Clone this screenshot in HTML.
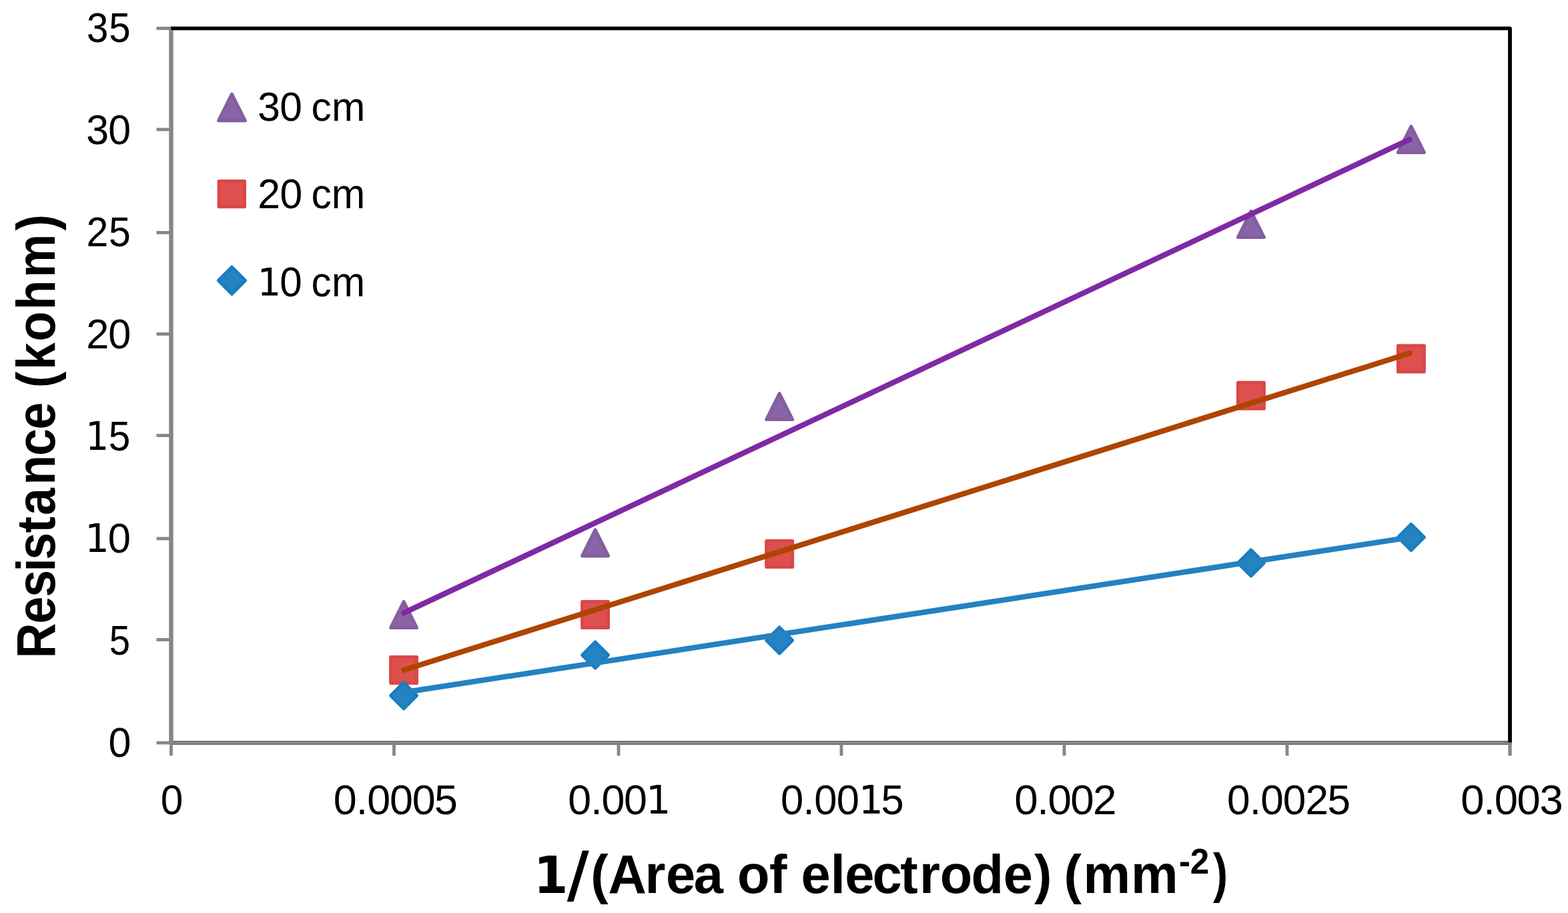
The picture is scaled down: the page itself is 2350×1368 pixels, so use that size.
<!DOCTYPE html><html><head><meta charset="utf-8"><title>Resistance vs 1/Area of electrode</title><style>html,body{margin:0;padding:0;background:#fff;}body{width:2350px;height:1368px;overflow:hidden;}svg{display:block;}text{font-family:"Liberation Sans",sans-serif;fill:#000;font-kerning:none;}</style></head><body>
<svg width="2350" height="1368" viewBox="0 0 2350 1368">
<rect width="2350" height="1368" fill="#fff"/>
<rect x="256.5" y="42.5" width="2006.5" height="1070.5" fill="none" stroke="#000" stroke-width="5.4" stroke-linejoin="round"/>
<line x1="256.5" y1="40.0" x2="256.5" y2="1113.0" stroke="#868686" stroke-width="6"/>
<line x1="256.5" y1="1113.0" x2="2265.7" y2="1113.0" stroke="#868686" stroke-width="4.8"/>
<line x1="234.5" y1="42.5" x2="256.5" y2="42.5" stroke="#868686" stroke-width="4.8"/>
<line x1="234.5" y1="194.0" x2="256.5" y2="194.0" stroke="#868686" stroke-width="4.8"/>
<line x1="234.5" y1="348.5" x2="256.5" y2="348.5" stroke="#868686" stroke-width="4.8"/>
<line x1="234.5" y1="500.5" x2="256.5" y2="500.5" stroke="#868686" stroke-width="4.8"/>
<line x1="234.5" y1="652.5" x2="256.5" y2="652.5" stroke="#868686" stroke-width="4.8"/>
<line x1="234.5" y1="807.0" x2="256.5" y2="807.0" stroke="#868686" stroke-width="4.8"/>
<line x1="234.5" y1="958.5" x2="256.5" y2="958.5" stroke="#868686" stroke-width="4.8"/>
<line x1="234.5" y1="1113.0" x2="256.5" y2="1113.0" stroke="#868686" stroke-width="4.8"/>
<line x1="256.5" y1="1113.0" x2="256.5" y2="1132.3" stroke="#868686" stroke-width="4.8"/>
<line x1="590.5" y1="1113.0" x2="590.5" y2="1132.3" stroke="#868686" stroke-width="4.8"/>
<line x1="927.0" y1="1113.0" x2="927.0" y2="1132.3" stroke="#868686" stroke-width="4.8"/>
<line x1="1261.0" y1="1113.0" x2="1261.0" y2="1132.3" stroke="#868686" stroke-width="4.8"/>
<line x1="1595.0" y1="1113.0" x2="1595.0" y2="1132.3" stroke="#868686" stroke-width="4.8"/>
<line x1="1929.0" y1="1113.0" x2="1929.0" y2="1132.3" stroke="#868686" stroke-width="4.8"/>
<line x1="2263.0" y1="1113.0" x2="2263.0" y2="1132.3" stroke="#868686" stroke-width="5.4"/>
<line x1="256.5" y1="42.5" x2="2263.0" y2="42.5" stroke="#000" stroke-width="5.0"/>
<line x1="2263.0" y1="42.5" x2="2263.0" y2="1112.6" stroke="#000" stroke-width="5.4"/>
<text transform="translate(0,63.09) scale(0.9529,1.0238)" x="136.55 171.21" y="0" font-size="61">35</text>
<text transform="translate(0,216.06) scale(0.9982,1.0238)" x="129.44 162.54" y="0" font-size="61">30</text>
<text transform="translate(0,369.03) scale(0.9669,1.0238)" x="134.03 168.51" y="0" font-size="61">25</text>
<text transform="translate(0,522.00) scale(1.0049,1.0238)" x="128.55 161.48" y="0" font-size="61">20</text>
<text transform="translate(0,674.97) scale(0.9605,1.0238)" font-size="61"><tspan x="133.66" y="-0.70" font-family="DejaVu Sans, sans-serif" font-size="57.08">1</tspan><tspan x="169.44" y="0">5</tspan></text>
<text transform="translate(0,827.94) scale(1.0085,1.0238)" font-size="61"><tspan x="126.25" y="-0.68" font-family="DejaVu Sans, sans-serif" font-size="57.08">1</tspan><tspan x="160.40" y="0">0</tspan></text>
<text transform="translate(0,980.91) scale(0.9232,1.0238)" x="177.37" y="0" font-size="61">5</text>
<text transform="translate(0,1133.88) scale(1.0014,1.0238)" x="162.39" y="0" font-size="61">0</text>
<text transform="translate(0,1219.79) scale(0.9911,1.0191)" x="242.90" y="0" font-size="61">0</text>
<text transform="translate(0,1219.79) scale(1.0303,1.0191)" x="484.99 517.97 534.04 566.78 599.52 631.88" y="0" font-size="61">0.0005</text>
<text transform="translate(0,1219.79) scale(1.0287,1.0191)" font-size="61"><tspan x="827.62 860.47 876.40 908.96" y="0">0.00</tspan><tspan x="941.12" y="-0.58" font-family="DejaVu Sans, sans-serif" font-size="57.21">1</tspan></text>
<text transform="translate(0,1219.79) scale(1.0088,1.0191)" font-size="61"><tspan x="1159.76 1193.12 1209.57 1242.82" y="0">0.00</tspan><tspan x="1275.70" y="-0.58" font-family="DejaVu Sans, sans-serif" font-size="57.21">1</tspan><tspan x="1308.94" y="0">5</tspan></text>
<text transform="translate(0,1219.79) scale(1.0460,1.0191)" x="1453.29 1485.88 1501.55 1533.75 1566.04" y="0" font-size="61">0.002</text>
<text transform="translate(0,1219.79) scale(1.0182,1.0191)" x="1806.09 1839.23 1855.45 1888.39 1921.42 1953.90" y="0" font-size="61">0.0025</text>
<text transform="translate(0,1219.79) scale(1.0380,1.0191)" x="2109.10 2141.87 2157.73 2190.19 2223.09" y="0" font-size="61">0.003</text>
<text transform="translate(0,181.21) scale(0.9913,1.0143)" x="389.60 422.87 455.75 470.55 501.31" y="0" font-size="61">30 cm</text>
<text transform="translate(0,312.21) scale(0.9954,1.0191)" x="387.97 421.38 454.07 468.71 499.17" y="0" font-size="61">20 cm</text>
<text transform="translate(0,443.61) scale(0.9876,1.0240)" font-size="61"><tspan x="390.54" y="-0.79" font-family="DejaVu Sans, sans-serif" font-size="56.40">1</tspan><tspan x="424.49 457.47 472.35 503.28" y="0">0 cm</tspan></text>
<text transform="translate(0,1338.00) scale(0.9694,1.0036)" font-size="82" font-weight="bold"><tspan x="825.03" y="0.00" font-family="DejaVu Sans, sans-serif" font-size="76.68">1</tspan><tspan x="876.63" y="4.12" font-family="DejaVu Sans, sans-serif" font-size="93.12">/</tspan><tspan x="913.11 940.31 997.14 1029.39 1072.61 1118.86 1139.85 1189.49 1216.85 1238.36 1283.99 1306.31 1348.66 1391.93 1421.41 1453.14 1501.54 1551.12 1598.83 1624.06 1644.78 1674.64 1748.44" y="0">(Area of electrode) (mm</tspan></text>
<text transform="translate(0,1309.40) scale(0.9675,1.0108)" x="1826.47 1843.77" y="0" font-size="53" font-weight="bold">-2</text>
<text transform="translate(0,1335.60) scale(0.8124,1.0000)" x="2237.86" y="0" font-size="82" font-weight="bold">)</text>
<text transform="translate(82.00,979.80) rotate(-90) scale(0.9073,1.0073)" x="-7.35 49.94 93.62 135.57 155.47 199.80 229.12 278.79 326.99 370.64 417.09 439.29 468.91 516.18 567.85 621.46 699.07" y="0" font-size="81" font-weight="bold">Resistance (kohm)</text>
<path d="M605.1,901.6 L624.6,940.6 L585.6,940.6 Z" fill="#8964a7" stroke="#845ea2" stroke-width="5.0" stroke-linejoin="round"/>
<path d="M892.1,793.9 L911.6,832.9 L872.6,832.9 Z" fill="#8964a7" stroke="#845ea2" stroke-width="5.0" stroke-linejoin="round"/>
<path d="M1168.2,589.5 L1187.7,628.5 L1148.7,628.5 Z" fill="#8964a7" stroke="#845ea2" stroke-width="5.0" stroke-linejoin="round"/>
<path d="M1874.9,316.6 L1894.4,355.6 L1855.4,355.6 Z" fill="#8964a7" stroke="#845ea2" stroke-width="5.0" stroke-linejoin="round"/>
<path d="M2114.9,189.4 L2134.4,228.4 L2095.4,228.4 Z" fill="#8964a7" stroke="#845ea2" stroke-width="5.0" stroke-linejoin="round"/>
<rect x="585.6" y="984.4" width="39.0" height="39.0" fill="#de504f" stroke="#da4845" stroke-width="5.0" stroke-linejoin="round"/>
<rect x="872.6" y="901.5" width="39.0" height="39.0" fill="#de504f" stroke="#da4845" stroke-width="5.0" stroke-linejoin="round"/>
<rect x="1148.7" y="810.4" width="39.0" height="39.0" fill="#de504f" stroke="#da4845" stroke-width="5.0" stroke-linejoin="round"/>
<rect x="1855.4" y="573.3" width="39.0" height="39.0" fill="#de504f" stroke="#da4845" stroke-width="5.0" stroke-linejoin="round"/>
<rect x="2095.4" y="518.0" width="39.0" height="39.0" fill="#de504f" stroke="#da4845" stroke-width="5.0" stroke-linejoin="round"/>
<path d="M605.1,1022.8 L624.6,1042.3 L605.1,1061.8 L585.6,1042.3 Z" fill="#2683c2" stroke="#1a7ec0" stroke-width="5.0" stroke-linejoin="round"/>
<path d="M892.1,961.9 L911.6,981.4 L892.1,1000.9 L872.6,981.4 Z" fill="#2683c2" stroke="#1a7ec0" stroke-width="5.0" stroke-linejoin="round"/>
<path d="M1168.2,939.9 L1187.7,959.4 L1168.2,978.9 L1148.7,959.4 Z" fill="#2683c2" stroke="#1a7ec0" stroke-width="5.0" stroke-linejoin="round"/>
<path d="M1874.9,823.9 L1894.4,843.4 L1874.9,862.9 L1855.4,843.4 Z" fill="#2683c2" stroke="#1a7ec0" stroke-width="5.0" stroke-linejoin="round"/>
<path d="M2114.9,785.5 L2134.4,805.0 L2114.9,824.5 L2095.4,805.0 Z" fill="#2683c2" stroke="#1a7ec0" stroke-width="5.0" stroke-linejoin="round"/>
<line x1="605.4" y1="918.3" x2="2112.7" y2="208.9" stroke="#8029a4" stroke-width="8.2" stroke-linecap="round"/>
<line x1="605.4" y1="1003.9" x2="2112.9" y2="529.2" stroke="#ae4500" stroke-width="8.2" stroke-linecap="round"/>
<line x1="605.4" y1="1037.4" x2="2112.7" y2="805.2" stroke="#2581c1" stroke-width="8.2" stroke-linecap="round"/>
<path d="M347.5,141.0 L367.4,180.8 L327.6,180.8 Z" fill="#8964a7" stroke="#845ea2" stroke-width="5.0" stroke-linejoin="round"/>
<rect x="328.1" y="271.4" width="38.4" height="38.4" fill="#de504f" stroke="#da4845" stroke-width="5.0" stroke-linejoin="round"/>
<path d="M347.5,400.2 L367.6,420.3 L347.5,440.4 L327.4,420.3 Z" fill="#2683c2" stroke="#1a7ec0" stroke-width="5.0" stroke-linejoin="round"/>
</svg></body></html>
